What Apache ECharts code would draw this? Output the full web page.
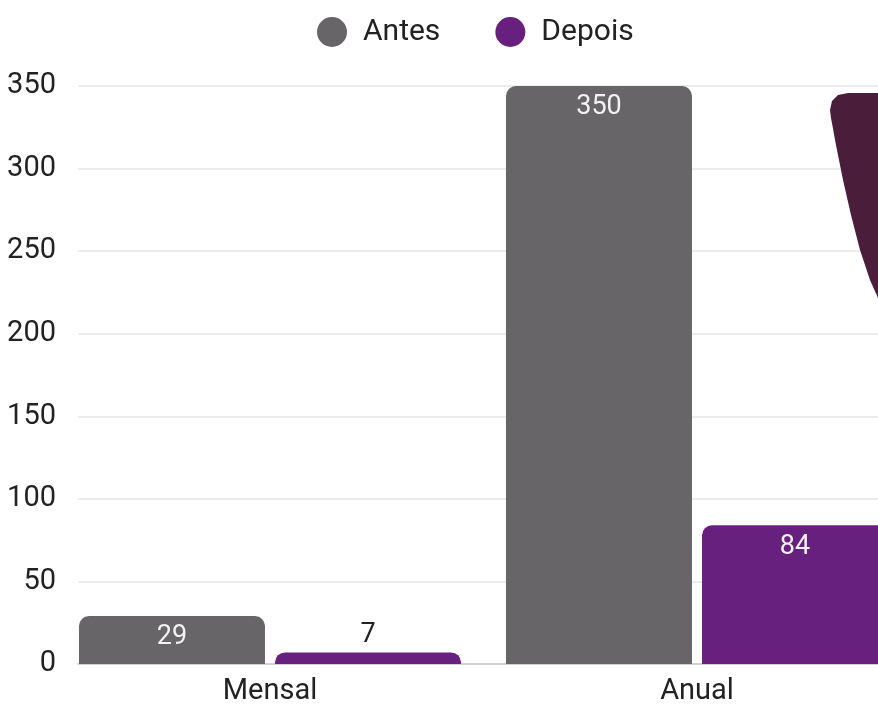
<!DOCTYPE html>
<html>
<head>
<meta charset="utf-8">
<script src="https://cdn.jsdelivr.net/npm/echarts@6/dist/echarts.min.js"></script>
<style>
  html, body { margin: 0; padding: 0; background: #fff; }
  #chart { width: 878px; height: 706px; }
</style>
</head>
<body>
<div id="chart"></div>
<script>
// values
const periods = ['Mensal', 'Anual'];
const antes = [29, 350];
const depois = [7, 84];
const seriesNames = ['Antes', 'Depois'];
const colors = ['#676567', '#68207f'];

const chart = echarts.init(document.getElementById('chart'));

// small bars get their label above the bar, big ones inside
function barData(values) {
  return values.map(v => {
    if (v < 20) {
      return { value: v, label: { position: 'top', distance: 4, color: '#222' } };
    }
    return v;
  });
}

const font = 'Roboto, sans-serif';

const option = {
  animation: false,
  textStyle: { fontFamily: font },
  color: colors,
  legend: {
    top: 12,
    left: 312,
    icon: 'circle',
    itemWidth: 30,
    itemHeight: 30,
    itemGap: 55,
    textStyle: { fontSize: 30, color: '#222', fontFamily: font, padding: [0, 0, 0, 11] },
    data: seriesNames
  },
  grid: [
    // grid for y axis, split lines and baseline
    { left: 78, right: 0, top: 86, bottom: 42, outerBoundsMode: 'none' },
    // grid for bars, wider than the canvas so the cut-off on the right is kept
    { left: 56.5, right: -32.5, top: 86, bottom: 42, outerBoundsMode: 'none' }
  ],
  xAxis: [
    {
      gridIndex: 0, type: 'value', min: 0, max: 1,
      axisLine: { show: true, lineStyle: { color: '#c8c8c8', width: 1.5 } },
      axisTick: { show: false }, axisLabel: { show: false }, splitLine: { show: false }
    },
    {
      gridIndex: 1, type: 'category', data: periods,
      axisLine: { show: false }, axisTick: { show: false },
      axisLabel: { fontSize: 29, color: '#222', margin: 13, fontFamily: font }
    }
  ],
  yAxis: [
    {
      gridIndex: 0, type: 'value', min: 0, max: 350, interval: 50,
      axisLine: { show: false }, axisTick: { show: false },
      axisLabel: { fontSize: 29, color: '#222', margin: 22, fontFamily: font },
      splitLine: { lineStyle: { color: '#e6e6e6', width: 1.5 } }
    },
    {
      gridIndex: 1, type: 'value', min: 0, max: 350, show: false,
      splitLine: { show: false }
    }
  ],
  series: [
    {
      name: seriesNames[0], type: 'bar', xAxisIndex: 1, yAxisIndex: 1,
      barWidth: 186, barGap: '5.4%',
      itemStyle: { color: colors[0], borderRadius: [10, 10, 0, 0] },
      label: { show: true, position: 'insideTop', distance: 8, fontSize: 27, color: '#f2f2f2', fontFamily: font },
      data: barData(antes)
    },
    {
      name: seriesNames[1], type: 'bar', xAxisIndex: 1, yAxisIndex: 1,
      barWidth: 186, barGap: '5.4%',
      itemStyle: { color: colors[1], borderRadius: [10, 10, 0, 0] },
      label: { show: true, position: 'insideTop', distance: 8, fontSize: 27, color: '#f2f2f2', fontFamily: font },
      data: barData(depois)
    }
  ],
  graphic: [
    {
      // dark shape overlapping the top right corner
      type: 'polygon',
      z: 100,
      shape: {
        points: [
          [878, 93], [848, 93], [838, 95], [832, 101], [830, 110], [831, 118],
          [836, 145], [843, 180], [851, 215], [860, 250], [870, 280], [878, 298]
        ]
      },
      style: { fill: '#4a1d3b' }
    }
  ]
};

chart.setOption(option);
</script>
</body>
</html>
